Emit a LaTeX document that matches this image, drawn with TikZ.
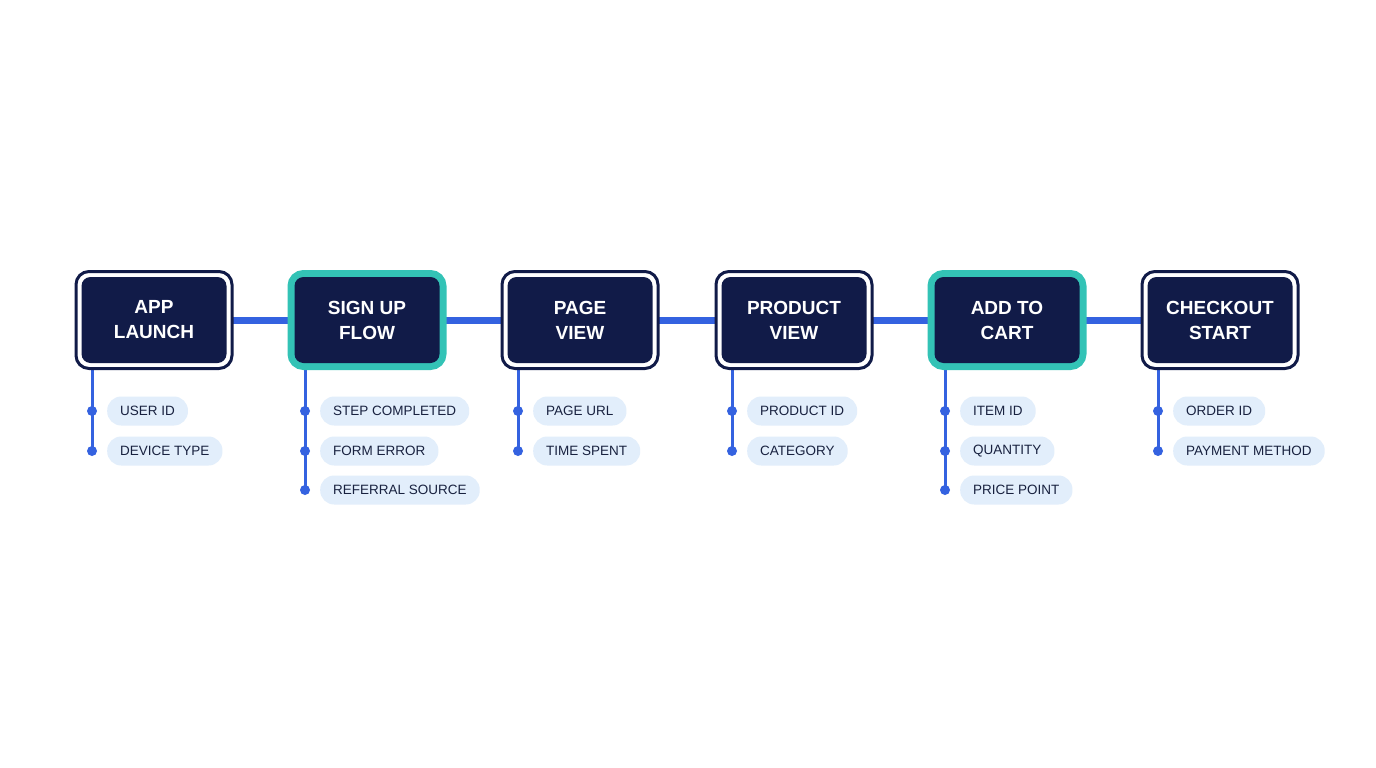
\documentclass[tikz,border=0pt]{standalone}
\usepackage{fontspec}
\setmainfont{Liberation Sans}
\definecolor{navy}{HTML}{111B48}
\definecolor{teal}{HTML}{33C3B6}
\definecolor{lblue}{HTML}{3462E0}
\definecolor{pill}{HTML}{E2EEFB}
\definecolor{ptext}{HTML}{18213F}
\begin{document}
\begin{tikzpicture}[x=1pt,y=-1pt,
  box/.style={draw=navy,line width=3pt,fill=white,rounded corners=13pt,minimum width=156pt,minimum height=97pt},
  hbox/.style={draw=teal,line width=8pt,fill=navy,rounded corners=12pt,minimum width=151pt,minimum height=92pt},
  inner/.style={fill=navy,rounded corners=9pt,minimum width=145pt,minimum height=86pt,text=white,font=\bfseries\fontsize{19}{25}\selectfont,align=center},
  pl/.style={fill=pill,rounded corners=14pt,minimum height=29pt,inner xsep=13pt,anchor=west,text=ptext,font=\fontsize{13.5}{16}\selectfont},
  dot/.style={circle,fill=lblue,inner sep=0pt,minimum size=10pt},
  link/.style={lblue,line width=7pt},
  stem/.style={lblue,line width=3pt}]
\useasboundingbox (0,0) rectangle (1376,768);
\fill[white] (0,0) rectangle (1376,768);
% links
\coordinate (L) at (154,320); \coordinate (R) at (1220,320);
\draw[link] (L) -- (R);
\def\boxes{154/APP\\LAUNCH/box/a,367/SIGN UP\\FLOW/hbox/b,580/PAGE\\VIEW/box/c,794/PRODUCT\\VIEW/box/d,1007/ADD TO\\CART/hbox/e,1220/CHECKOUT\\START/box/f}
\foreach \x/\t/\s/\n in \boxes {
  \coordinate (top\n) at (\x-62,370);
}
\foreach \x/\n/\last in {154/a/451,367/b/490,580/c/451,794/d/451,1007/e/490,1220/f/451}{
  \coordinate (s\n) at (\x-62,360);
  \coordinate (e\n) at (\x-62,\last);
  \draw[stem] (s\n) -- (e\n);
}
\foreach \x/\t/\s/\n in \boxes {
  \node[\s] (o\n) at (\x,320) {};
  \node[inner] (\n) at (\x,320) {\t};
}
% attributes
\foreach \x/\y/\t/\n in {154/411/USER ID/a1,154/451/DEVICE TYPE/a2,
  367/411/STEP COMPLETED/b1,367/451/FORM ERROR/b2,367/490/REFERRAL SOURCE/b3,
  580/411/PAGE URL/c1,580/451/TIME SPENT/c2,
  794/411/PRODUCT ID/d1,794/451/CATEGORY/d2,
  1007/411/ITEM ID/e1,1007/451/QUANTITY/e2,1007/490/PRICE POINT/e3,
  1220/411/ORDER ID/f1,1220/451/PAYMENT METHOD/f2}{
  \node[dot] (d\n) at (\x-62,\y) {};
  \node[pl] (p\n) at (\x-47,\y) {\t};
}
% make pills a bit wider like reference
\foreach \x/\y/\t/\n in {154/411/USER ID/a1}{}
\end{tikzpicture}
\end{document}
